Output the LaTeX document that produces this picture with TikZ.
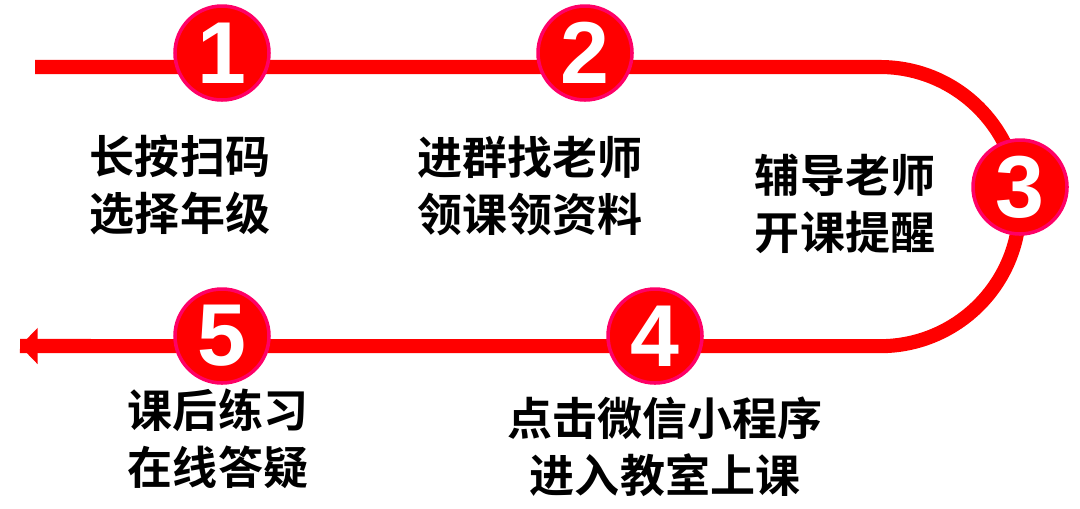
\documentclass[tikz,border=0pt]{standalone}
\usepackage{fontspec}
\setmainfont{Liberation Sans}
\newfontfamily\cjk{Noto Sans CJK SC}[BoldFont={* Bold}]
\usetikzlibrary{arrows.meta}
\definecolor{roadred}{HTML}{FF0000}
\definecolor{rimpink}{HTML}{FF0066}

\begin{document}
\begin{tikzpicture}[
    x=0.01cm, y=-0.01cm,
    road/.style={roadred, line width=4pt},
    stepcircle/.style={circle, fill=roadred, draw=rimpink, line width=1pt,
        minimum size=94*0.01cm, inner sep=0pt, text=white,
        font=\fontsize{25}{25}\selectfont\bfseries},
    caption/.style={align=center, font=\cjk\bfseries\fontsize{12.8}{16.2}\selectfont}
    ]
\useasboundingbox (0,0) rectangle (1080,508);

% Road
\coordinate (start) at (35,67);
\coordinate (turn top) at (880,67);
\coordinate (turn bottom) at (880,346);
\coordinate (finish) at (20,346);
\draw[road] (start) -- (turn top) arc[start angle=90, end angle=-90, radius=1.395cm] -- (finish);
\draw[road, -{Triangle[length=5pt, width=10pt]}] (60,346) -- (finish);

% Steps
\node[stepcircle] (s1) at (222,53) {1};
\node[stepcircle] (s2) at (585,53) {2};
\node[stepcircle] (s3) at (1020,187) {3};
\node[stepcircle] (s4) at (655,336) {4};
\node[stepcircle] (s5) at (222,336) {5};

% Captions
\node[caption] (t1) at (180,185) {长按扫码\\选择年级};
\node[caption] (t2) at (530,186) {进群找老师\\领课领资料};
\node[caption] (t3) at (845,204) {辅导老师\\开课提醒};
\node[caption] (t4) at (665,447) {点击微信小程序\\进入教室上课};
\node[caption] (t5) at (218,439) {课后练习\\在线答疑};

\end{tikzpicture}
\end{document}
